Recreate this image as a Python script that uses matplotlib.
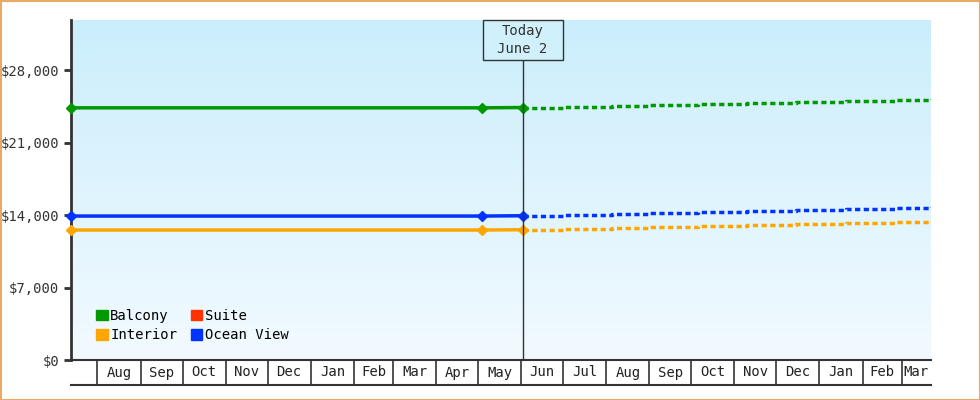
import matplotlib
matplotlib.use("Agg")
import matplotlib.pyplot as plt
import matplotlib.dates as mdates
import matplotlib.transforms as mtrans
from matplotlib.patches import Rectangle
import numpy as np
from datetime import date

plt.rcParams['font.family'] = ['DejaVu Sans Mono']

series_names = ["Balcony", "Interior", "Suite", "Ocean View"]
colors = {"Balcony": "#009900", "Suite": "#ff3300", "Interior": "#ffa500", "Ocean View": "#0033ff"}

hist_dates = [date(2024, 7, 13), date(2025, 5, 4), date(2025, 6, 2)]
hist_values = {
    "Balcony": [24350, 24350, 24380],
    "Interior": [12550, 12550, 12580],
    "Ocean View": [13900, 13900, 13930],
}
fc_dates = [date(2025, 6, 2), date(2025, 7, 1), date(2025, 8, 5), date(2025, 9, 1),
            date(2025, 10, 6), date(2025, 11, 10), date(2025, 12, 15),
            date(2026, 1, 20), date(2026, 2, 25), date(2026, 3, 22)]
fc_values = {
    "Balcony": [24380, 24450, 24550, 24650, 24750, 24850, 24950, 25050, 25150, 25200],
    "Interior": [12580, 12650, 12750, 12850, 12950, 13050, 13150, 13250, 13350, 13400],
    "Ocean View": [13930, 14000, 14100, 14200, 14300, 14400, 14500, 14600, 14700, 14750],
}
month_starts = [date(2024, 8, 1), date(2024, 9, 1), date(2024, 10, 1), date(2024, 11, 1),
                date(2024, 12, 1), date(2025, 1, 1), date(2025, 2, 1), date(2025, 3, 1),
                date(2025, 4, 1), date(2025, 5, 1), date(2025, 6, 1), date(2025, 7, 1),
                date(2025, 8, 1), date(2025, 9, 1), date(2025, 10, 1), date(2025, 11, 1),
                date(2025, 12, 1), date(2026, 1, 1), date(2026, 2, 1), date(2026, 3, 1)]
month_labels = ["Aug", "Sep", "Oct", "Nov", "Dec", "Jan", "Feb", "Mar", "Apr", "May",
                "Jun", "Jul", "Aug", "Sep", "Oct", "Nov", "Dec", "Jan", "Feb", "Mar"]
today = date(2025, 6, 2)
x_start, x_end = date(2024, 7, 13), date(2026, 3, 22)
y_ticks = [0, 7000, 14000, 21000, 28000]

fig = plt.figure(figsize=(9.8, 4), dpi=100)
fig.patches.append(Rectangle((0.5/980, 0.5/400), 1-1/980, 1-1/400, transform=fig.transFigure,
                             fill=False, edgecolor="#e8aa66", linewidth=1.5))
ax = fig.add_axes([71/980, 40/400, 860/980, 340/400])
x0, x1 = mdates.date2num(x_start), mdates.date2num(x_end)
ymax = 32830
grad = np.linspace(0, 1, 256).reshape(-1, 1)
cmap = matplotlib.colors.LinearSegmentedColormap.from_list("g", ["#f2faff", "#cbeefc"])
ax.imshow(grad, extent=[x0, x1, 0, ymax], origin="lower", aspect="auto", cmap=cmap, zorder=0)
ax.set_xlim(x0, x1)
ax.set_ylim(0, ymax)

for name in ["Balcony", "Interior", "Ocean View"]:
    c = colors[name]
    ax.plot(hist_dates, hist_values[name], color=c, lw=2.5, marker="D", ms=5, zorder=3, clip_on=False)
    ax.plot(fc_dates, fc_values[name], color=c, lw=2.5, ls=(0, (1.5, 1.0)), drawstyle="steps-post", zorder=3)

handles = [Rectangle((0, 0), 1, 1, color=colors[n]) for n in series_names]
ax.legend(handles, series_names, ncol=2, loc="lower left", frameon=False, bbox_to_anchor=(0.015, 0.015),
          handlelength=0.8, handleheight=0.8, handletextpad=0.2, columnspacing=1.0, labelspacing=0.4, fontsize=10)

tx = mdates.date2num(today)
ax.axvline(tx, ymax=0.9, color="#333333", lw=1, zorder=4)
bw, bh = 80 / 860 * (x1 - x0), 40 / 340 * ymax
trans_d = ax.transData
ax.add_patch(Rectangle((tx - bw / 2, ymax - bh), bw, bh, fc="#d0f0fc", ec="#333333", lw=1, zorder=5, clip_on=False))
ax.text(tx, ymax - bh / 2, "Today\nJune 2", ha="center", va="center", fontsize=10, color="#333333",
        linespacing=1.3, zorder=6)

ax.set_yticks(y_ticks)
ax.set_yticklabels(["${:,}".format(v) for v in y_ticks], fontsize=10, color="#333333")
ax.tick_params(axis="y", length=5, width=2, color="#333333")
ax.set_xticks([])
for s in ["top", "right"]:
    ax.spines[s].set_visible(False)
ax.spines["left"].set_linewidth(2)
ax.spines["left"].set_color("#333333")
ax.spines["bottom"].set_linewidth(1.5)
ax.spines["bottom"].set_color("#333333")

trans = mtrans.blended_transform_factory(ax.transData, ax.transAxes)
row_h = -25 / 340
ax.plot([x0, x1], [row_h, row_h], transform=trans, color="#333333", lw=1.5, clip_on=False)
edges = [mdates.date2num(d) for d in month_starts] + [x1]
for e in edges[:-1]:
    ax.plot([e, e], [0, row_h], transform=trans, color="#333333", lw=1.2, clip_on=False)
for i, lab in enumerate(month_labels):
    ax.text((edges[i] + edges[i + 1]) / 2, row_h / 2, lab, transform=trans, ha="center", va="center",
            fontsize=10, color="#222222")

fig.savefig("out.png", dpi=100)
